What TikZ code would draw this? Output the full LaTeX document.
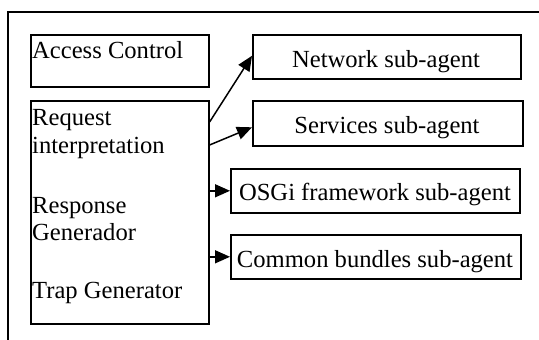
\documentclass[tikz,border=0pt]{standalone}
\usepackage{fontspec}
\setmainfont{Liberation Serif}
\usetikzlibrary{arrows.meta}
\tikzset{
  box/.style={draw, line width=1.6pt, rectangle, inner sep=0pt, anchor=north west},
  txt/.style={inner sep=0pt, anchor=base west, font=\fontsize{24.6}{28}\selectfont},
  ctxt/.style={inner sep=0pt, anchor=base, font=\fontsize{24.6}{28}\selectfont},
  arr/.style={line width=1.5pt, -{Triangle[length=15pt,width=13pt]}},
  frame/.style={line width=1.8pt}
}
\begin{document}
\begin{tikzpicture}[x=1pt,y=-1pt]
\useasboundingbox (0,0) rectangle (539,340);
\coordinate (fb) at (8,340);
\coordinate (ft) at (8,12);
\coordinate (fr) at (539,12);
\draw[frame] (fb) -- (ft) -- (fr);
% left boxes
\node[box, minimum width=178pt, minimum height=52pt] (acc) at (30,34) {};
\node[box, minimum width=178pt, minimum height=223pt] (req) at (30,100) {};
\node[txt] (acct) at (32,58) {Access Control};
\node[txt] (req1) at (32,125) {Request};
\node[txt] (req2) at (32,153) {interpretation};
\node[txt] (res1) at (32,213) {Response};
\node[txt] (res2) at (32,240) {Generador};
\node[txt] (trap) at (32,298) {Trap Generator};
% right boxes
\node[box, minimum width=268pt, minimum height=44pt] (net) at (252,34) {};
\node[box, minimum width=270pt, minimum height=45pt] (srv) at (252,100) {};
\node[box, minimum width=289pt, minimum height=44pt] (osg) at (230,168) {};
\node[box, minimum width=290pt, minimum height=44pt] (com) at (230,234) {};
\node[ctxt] (nett) at (386,67) {Network sub-agent};
\node[ctxt] (srvt) at (387,133) {Services sub-agent};
\node[ctxt] (osgt) at (375,200) {OSGi framework sub-agent};
\node[ctxt] (comt) at (375,267) {Common bundles sub-agent};
% arrows
\draw[arr] ([yshift=-22pt]req.north east) -- ([yshift=1pt]net.west);
\draw[arr] ([yshift=-45pt]req.north east) -- ([yshift=-4pt]srv.west);
\draw[arr] (req.east |- osg.west) -- (osg.west);
\draw[arr] (req.east |- com.west) -- (com.west);
\end{tikzpicture}
\end{document}
